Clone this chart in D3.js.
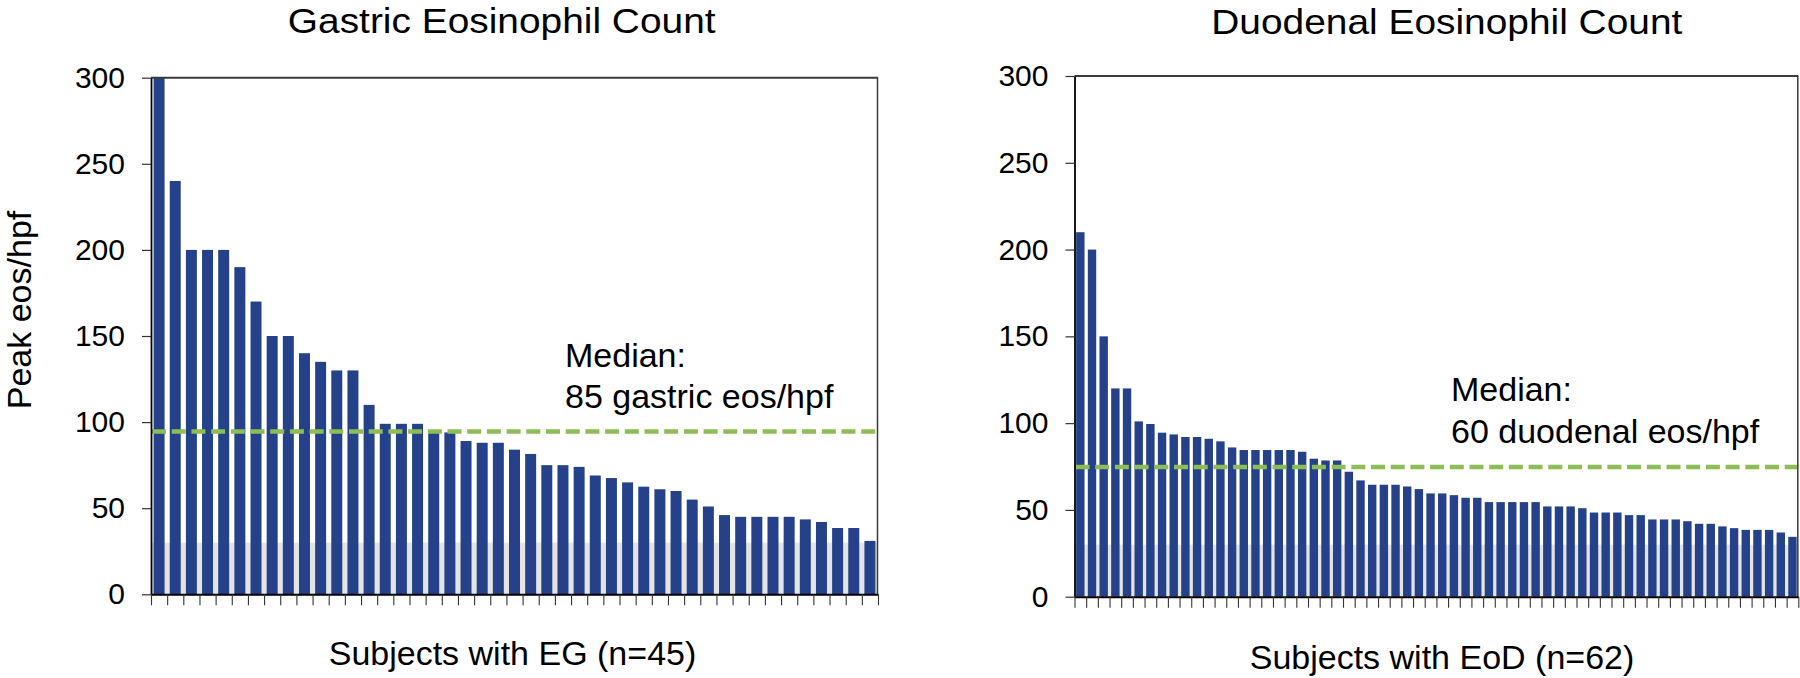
<!DOCTYPE html>
<html><head><meta charset="utf-8">
<script src="https://cdn.jsdelivr.net/npm/d3@7"></script>
<style>
html,body{margin:0;padding:0;background:#fff;}
svg{display:block;font-family:"Liberation Sans",Arial,Helvetica,sans-serif;}
</style></head><body>
<svg id="chart" width="1800" height="678"></svg>
<script>
// ---- data ----
const gastricValues = [300, 240, 200, 200, 200, 190, 170, 150, 150, 140, 135, 130, 130, 110, 99, 99, 99, 94.5, 94, 89, 88, 88, 84, 81.5, 75, 75, 74, 69, 67.5, 65, 62.5, 61, 60, 55, 51, 46, 45, 45, 45, 45, 43.5, 42, 38.5, 38.5, 31];
const duodenalValues = [210, 200, 150, 120, 120, 101, 99.5, 94.5, 93.5, 92, 92, 91, 89.5, 86, 84.5, 84.5, 84.5, 84.5, 84.5, 83.5, 79.5, 78.5, 78.5, 72, 67, 64.5, 64.5, 64.5, 63.5, 62, 59.5, 59.5, 58.5, 57, 57, 54.5, 54.5, 54.5, 54.5, 54.5, 52, 52, 52, 51, 48.5, 48.5, 48.5, 47, 47, 44.5, 44.5, 44.5, 43.5, 42, 42, 40.5, 39.5, 38.5, 38.5, 38.5, 37, 34.5];
const yTickValues = [0, 50, 100, 150, 200, 250, 300];
const yDomain = [0, 300];
const chartTitles = ["Gastric Eosinophil Count", "Duodenal Eosinophil Count"];
const xAxisLabels = ["Subjects with EG (n=45)", "Subjects with EoD (n=62)"];
const medianLabels = [["Median:", "85 gastric eos/hpf"], ["Median:", "60 duodenal eos/hpf"]];
const medianLineValues = [94.5, 74.7];
const shadedBand = [0, 30];
const yAxisLabel = "Peak eos/hpf";

// ---- layout / style ----
const BAR = "#25418a", GREEN = "#8dbd55", SHADE = "#e4e4e4";
const panels = [
  {values: gastricValues, x0: 151, x1: 878, yTop: 77.7, yZero: 594.3, pad: 0.32,
   titleX: 501.7, titleY: 33, xlabX: 512.5, xlabY: 665, medX: 565, medY: 366.7},
  {values: duodenalValues, x0: 1074.5, x1: 1798.3, yTop: 76, yZero: 596.7, pad: 0.28,
   titleX: 1446.8, titleY: 34, xlabX: 1442, xlabY: 669, medX: 1451, medY: 401}
];

const svg = d3.select("#chart");

function addText(g, x, y, txt, size, anchor, sx) {
  return g.append("text")
    .attr("transform", `translate(${x},${y}) scale(${sx || 1},1)`)
    .attr("text-anchor", anchor || "start")
    .style("font-size", size + "px")
    .attr("fill", "#000")
    .text(txt);
}

panels.forEach((p, k) => {
  const g = svg.append("g");
  const n = p.values.length;
  const y = d3.scaleLinear().domain(yDomain).range([p.yZero, p.yTop]);
  const xb = d3.scaleBand().domain(d3.range(n)).range([p.x0, p.x1])
    .paddingInner(p.pad).paddingOuter(p.pad / 2);
  const xi = d3.scaleLinear().domain([0, n]).range([p.x0, p.x1]);

  // shaded band
  g.append("rect")
    .attr("x", p.x0).attr("width", p.x1 - p.x0)
    .attr("y", y(shadedBand[1])).attr("height", y(shadedBand[0]) - y(shadedBand[1]))
    .attr("fill", SHADE);

  // bars
  g.selectAll("rect.bar").data(p.values).enter().append("rect")
    .attr("class", "bar")
    .attr("x", (d, i) => xb(i))
    .attr("width", xb.bandwidth())
    .attr("y", d => y(Math.min(d, yDomain[1])))
    .attr("height", d => y(0) - y(Math.min(d, yDomain[1])))
    .attr("fill", BAR);

  // median dashed line
  g.append("line")
    .attr("x1", p.x0 + 1).attr("x2", p.x1 - 1)
    .attr("y1", y(medianLineValues[k])).attr("y2", y(medianLineValues[k]))
    .attr("stroke", GREEN).attr("stroke-width", 4.5)
    .attr("stroke-dasharray", "14,5.7");

  // frame top & right
  g.append("line").attr("x1", p.x0).attr("x2", p.x1).attr("y1", y(300)).attr("y2", y(300))
    .attr("stroke", "#3a3a3a").attr("stroke-width", 2);
  g.append("line").attr("x1", p.x1 - 0.5).attr("x2", p.x1 - 0.5).attr("y1", y(300)).attr("y2", y(0))
    .attr("stroke", "#3a3a3a").attr("stroke-width", 1.5);

  // y axis
  const ya = g.append("g").attr("transform", `translate(${p.x0},0)`)
    .call(d3.axisLeft(y).tickValues(yTickValues).tickSize(9).tickSizeOuter(0).tickPadding(17));
  ya.select(".domain").attr("stroke", "#000").attr("stroke-width", 1.8);
  ya.selectAll(".tick line").attr("stroke", "#333").attr("stroke-width", 1.2);
  ya.selectAll(".tick text").style("font-size", "30px").attr("fill", "#000")
    .style("font-family", "'Liberation Sans',Arial,sans-serif");

  // x axis (ticks at category boundaries)
  const xa = g.append("g").attr("transform", `translate(0,${p.yZero})`)
    .call(d3.axisBottom(xi).tickValues(d3.range(n + 1)).tickFormat("").tickSize(11).tickSizeOuter(0));
  xa.select(".domain").attr("stroke", "#000").attr("stroke-width", 2);
  xa.selectAll(".tick line").attr("stroke", "#333").attr("stroke-width", 1.1);

  // texts
  addText(g, p.titleX, p.titleY, chartTitles[k], 36, "middle", 1.08);
  addText(g, p.xlabX, p.xlabY, xAxisLabels[k], 34, "middle", 1.0);
  addText(g, p.medX, p.medY, medianLabels[k][0], 34, "start", 1.0);
  addText(g, p.medX, p.medY + 41.5, medianLabels[k][1], 34, "start", 1.0);
});

// y axis title (left panel only)
svg.append("text")
  .attr("transform", "translate(31,310) rotate(-90)")
  .attr("text-anchor", "middle")
  .style("font-size", "34px")
  .attr("fill", "#000")
  .text(yAxisLabel);
</script>
</body></html>
